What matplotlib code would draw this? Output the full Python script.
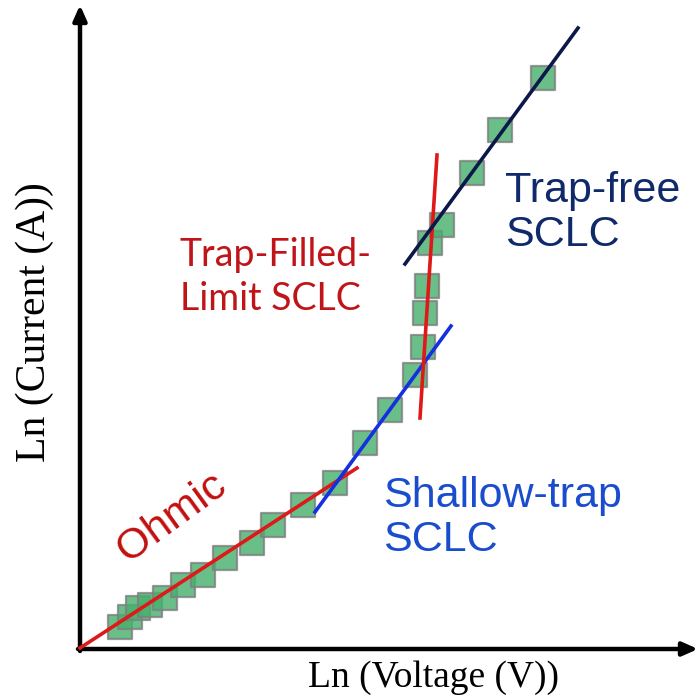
import matplotlib.pyplot as plt

# measured points, ln(V) vs ln(I) in arbitrary units
ln_v = [40, 50, 58, 70, 85, 103, 123, 145, 172, 193, 223, 255, 285, 310,
        335, 343, 345, 347, 350, 362, 392, 420, 463]
ln_i = [22, 32, 41, 44, 51, 64, 74, 91, 106, 124, 144, 166, 206, 239,
        274, 302, 336, 363, 406, 424, 476, 519, 571]

# fitted regimes: (x0, x1), (y0, y1)
ohmic_x, ohmic_y = [0, 277], [1, 181]
shallow_x, shallow_y = [235, 371], [137, 323]
tfl_x, tfl_y = [340, 357], [231, 494]
trapfree_x, trapfree_y = [325, 498], [385, 621]

fig = plt.figure(figsize=(6.98, 7.00), dpi=100)
ax = fig.add_axes([0, 0, 1, 1])
ax.set_xlim(-80, 618)
ax.set_ylim(-51, 649)
ax.axis('off')

# axes with arrow heads
ax.annotate('', xy=(0, 644), xytext=(0, -2),
            arrowprops=dict(arrowstyle='-|>,head_length=0.9,head_width=0.4',
                            lw=3.2, color='black', shrinkA=0, shrinkB=0))
ax.annotate('', xy=(618, 0), xytext=(-2, 0),
            arrowprops=dict(arrowstyle='-|>,head_length=0.9,head_width=0.4',
                            lw=3.2, color='black', shrinkA=0, shrinkB=0))

ax.scatter(ln_v, ln_i, marker='s', s=300, c='#45b06c', alpha=0.8,
           edgecolors='#7f7f7f', linewidths=1.6, zorder=2)

ax.plot(ohmic_x, ohmic_y, color='#dd1a1a', lw=2.6, zorder=3)
ax.plot(shallow_x, shallow_y, color='#1530e0', lw=2.6, zorder=3)
ax.plot(tfl_x, tfl_y, color='#e01818', lw=2.6, zorder=3)
ax.plot(trapfree_x, trapfree_y, color='#0b1849', lw=2.6, zorder=3)

ax.text(92, 131, 'Ohmic', rotation=36, color='#c21010', fontsize=31,
        family='Liberation Sans', ha='center', va='center')
ax.text(100, 372, 'Trap-Filled-\nLimit SCLC', color='#bf1518', fontsize=27,
        family='Lato', ha='left', va='center', linespacing=1.3)
ax.text(425, 436, 'Trap-free\nSCLC', color='#10296a', fontsize=31,
        family='Liberation Sans', ha='left', va='center', linespacing=1.15)
ax.text(303, 131, 'Shallow-trap\nSCLC', color='#1a4cce', fontsize=31,
        family='Liberation Sans', ha='left', va='center', linespacing=1.15)

ax.text(353, -29, 'Ln (Voltage (V))', fontsize=27, family='Liberation Serif',
        ha='center', va='center')
ax.text(-45, 327, 'Ln (Current (A))', fontsize=30, family='Liberation Serif',
        rotation=90, ha='center', va='center')

fig.savefig('out.png', dpi=100)
